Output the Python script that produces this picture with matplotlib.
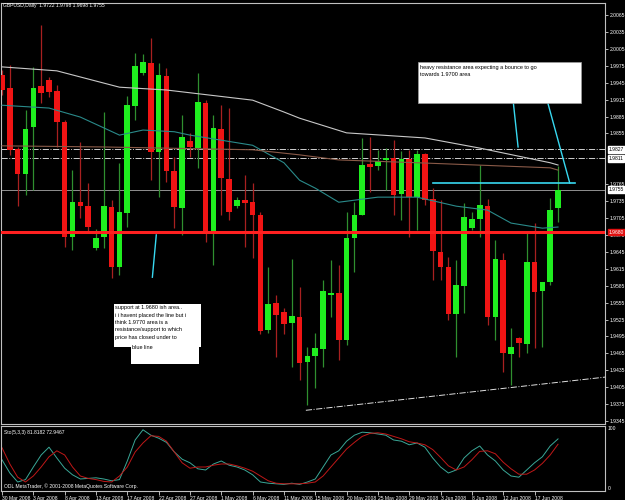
import matplotlib
matplotlib.use("Agg")
import matplotlib.pyplot as plt
from matplotlib.patches import Rectangle
import numpy as np

plt.rcParams['font.family'] = ['Liberation Sans', 'DejaVu Sans']

# GBPUSD daily candles
opens = [1.9959, 1.9936, 1.9827, 1.9783, 1.9866, 1.9939, 1.9950, 1.9930, 1.9875, 1.9671,
         1.9733, 1.9726, 1.9652, 1.9671, 1.9725, 1.9618, 1.9714, 1.9904, 1.9962, 1.9980,
         1.9822, 1.9957, 1.9788, 1.9723, 1.9842, 1.9829, 1.9909, 1.9678, 1.9863, 1.9774,
         1.9726, 1.9737, 1.9733, 1.9710, 1.9506, 1.9554, 1.9538, 1.9519, 1.9529, 1.9450,
         1.9460, 1.9473, 1.9568, 1.9572, 1.9489, 1.9670, 1.9710, 1.9801, 1.9797, 1.9808,
         1.9811, 1.9748, 1.9810, 1.9742, 1.9819, 1.9739, 1.9645, 1.9618, 1.9535, 1.9584,
         1.9687, 1.9703, 1.9726, 1.9529, 1.9631, 1.9464, 1.9492, 1.9482, 1.9627, 1.9576,
         1.9592, 1.9722]
highs = [1.9967, 1.9976, 1.9831, 1.9897, 1.9973, 2.0047, 1.9955, 1.9941, 1.9879, 1.9790,
         1.9840, 1.9767, 1.9686, 1.9893, 1.9737, 1.9803, 1.9921, 1.9998, 1.9996, 2.0024,
         1.9980, 1.9971, 1.9813, 1.9888, 1.9856, 1.9962, 1.9914, 1.9888, 1.9905, 1.9900,
         1.9742, 1.9781, 1.9767, 1.9716, 1.9618, 1.9568, 1.9545, 1.9632, 1.9583, 1.9476,
         1.9501, 1.9595, 1.9631, 1.9622, 1.9716, 1.9733, 1.9847, 1.9849, 1.9826, 1.9829,
         1.9843, 1.9824, 1.9826, 1.9826, 1.9820, 1.9758, 1.9737, 1.9636, 1.9631, 1.9732,
         1.9716, 1.9799, 1.9739, 1.9666, 1.9643, 1.9510, 1.9494, 1.9680, 1.9696, 1.9592,
         1.9740, 1.9798]
lows = [1.9923, 1.9817, 1.9726, 1.9746, 1.9755, 1.9909, 1.9920, 1.9831, 1.9654, 1.9648,
        1.9705, 1.9680, 1.9648, 1.9652, 1.9599, 1.9604, 1.9689, 1.9879, 1.9959, 1.9772,
        1.9742, 1.9769, 1.9687, 1.9675, 1.9813, 1.9794, 1.9662, 1.9622, 1.9710, 1.9701,
        1.9723, 1.9654, 1.9634, 1.9499, 1.9501, 1.9458, 1.9499, 1.9441, 1.9418, 1.9373,
        1.9404, 1.9441, 1.9529, 1.9453, 1.9480, 1.9609, 1.9710, 1.9751, 1.9790, 1.9755,
        1.9710, 1.9701, 1.9671, 1.9684, 1.9728, 1.9595, 1.9595, 1.9524, 1.9458, 1.9537,
        1.9684, 1.9671, 1.9515, 1.9489, 1.9432, 1.9409, 1.9458, 1.9466, 1.9474, 1.9476,
        1.9586, 1.9698]
closes = [1.9932, 1.9826, 1.9783, 1.9863, 1.9936, 1.9927, 1.9928, 1.9875, 1.9671, 1.9733,
          1.9726, 1.9689, 1.9670, 1.9726, 1.9618, 1.9716, 1.9905, 1.9975, 1.9982, 1.9822,
          1.9959, 1.9788, 1.9725, 1.9849, 1.9831, 1.9911, 1.9678, 1.9865, 1.9776, 1.9716,
          1.9737, 1.9732, 1.9710, 1.9505, 1.9553, 1.9533, 1.9517, 1.9531, 1.9448, 1.9460,
          1.9474, 1.9576, 1.9572, 1.9489, 1.9670, 1.9710, 1.9799, 1.9795, 1.9806, 1.9811,
          1.9746, 1.9810, 1.9742, 1.9819, 1.9737, 1.9646, 1.9618, 1.9535, 1.9586, 1.9707,
          1.9703, 1.9728, 1.9529, 1.9632, 1.9466, 1.9476, 1.9483, 1.9627, 1.9574, 1.9592,
          1.9719, 1.9755]

# moving averages (sampled where read)
ma_slow_idx = [0, 7, 15, 21, 32, 36, 38, 44, 54, 61, 70, 71]
ma_slow = [1.9973, 1.9966, 1.9937, 1.9932, 1.9914, 1.9893, 1.9882, 1.9856, 1.9847, 1.9829, 1.9803, 1.9799]
ma_mid_idx = [0, 6, 10, 15, 18, 22, 24, 32, 36, 38, 40, 43, 48, 53, 58, 62, 65, 69, 71]
ma_mid = [1.9905, 1.9900, 1.9884, 1.9852, 1.9861, 1.9858, 1.9852, 1.9834, 1.9803, 1.9772,
          1.9758, 1.9733, 1.9742, 1.9742, 1.9726, 1.9719, 1.9696, 1.9687, 1.9689]
ma_brown_idx = [0, 13, 32, 38, 43, 53, 70, 71]
ma_brown = [1.9833, 1.9831, 1.9826, 1.9817, 1.9808, 1.9803, 1.9794, 1.9790]

# stochastic(5,3,3)
stoch_k = [47, 25, 10, 14, 35, 55, 68, 50, 33, 22, 15, 16, 17, 15, 12, 14, 45, 80, 97, 88,
           83, 76, 60, 48, 42, 32, 30, 40, 45, 38, 35, 30, 22, 10, 8, 7, 6, 8, 6, 10,
           15, 35, 55, 62, 78, 88, 93, 92, 90, 88, 80, 78, 72, 75, 68, 50, 35, 25, 30, 50,
           62, 70, 55, 45, 30, 20, 18, 30, 42, 52, 70, 81.8]
stoch_d = [67, 40, 18, 10, 20, 35, 52, 62, 55, 35, 20, 16, 14, 11, 10, 20, 35, 60, 75, 87,
           86, 78, 60, 42, 33, 35, 35, 38, 40, 40, 37, 33, 28, 20, 12, 8, 7, 7, 7, 8,
           10, 20, 35, 50, 65, 76, 86, 91, 92, 90, 86, 82, 77, 75, 72, 64, 51, 37, 30, 35,
           47, 61, 62, 57, 43, 32, 23, 23, 30, 41, 55, 72.9]

date_idx = [0, 4, 8, 12, 16, 20, 24, 28, 32, 36, 40, 44, 48, 52, 56, 60, 64, 68]
date_labels = ["30 Mar 2008", "3 Apr 2008", "8 Apr 2008", "13 Apr 2008", "17 Apr 2008",
               "22 Apr 2008", "27 Apr 2008", "1 May 2008", "6 May 2008", "11 May 2008",
               "15 May 2008", "20 May 2008", "25 May 2008", "29 May 2008", "3 Jun 2008",
               "8 Jun 2008", "12 Jun 2008", "17 Jun 2008"]

price_ticks = [1.9345, 1.9375, 1.9405, 1.9435, 1.9465, 1.9495, 1.9525, 1.9555, 1.9585,
               1.9615, 1.9645, 1.9675, 1.9705, 1.9735, 1.9765, 1.9855, 1.9885, 1.9915,
               1.9945, 1.9975, 2.0005, 2.0035, 2.0065]

support = 1.9680
dash_levels = [1.9827, 1.9811]
bid = 1.9755

W, H = 625, 500
BG = 'black'
GRID = '#c0c0c0'

def fx(x):
    return x / W

def fy(y):
    return 1 - y / H

fig = plt.figure(figsize=(6.25, 5), dpi=100, facecolor=BG)

# main price panel
ax = fig.add_axes([fx(1), fy(424), fx(604), 421 / H], facecolor=BG)
ax.set_xlim(-0.13, 77.0)
ax.set_ylim(1.93397, 2.00863)

x = np.arange(len(opens))
o = np.array(opens); c = np.array(closes)
up = c >= o
body_lo = np.minimum(o, c)
body_h = np.maximum(np.abs(c - o), 0.00018)

ax.vlines(x[up], np.array(lows)[up], np.array(highs)[up], color='#2f8f2f', lw=0.9, zorder=2)
ax.vlines(x[~up], np.array(lows)[~up], np.array(highs)[~up], color='#a82020', lw=0.9, zorder=2)
ax.bar(x[up], body_h[up], bottom=body_lo[up], width=0.72, color='#1fee1f', lw=0, zorder=3)
ax.bar(x[~up], body_h[~up], bottom=body_lo[~up], width=0.72, color='#f01414', lw=0, zorder=3)

ax.plot(ma_slow_idx, ma_slow, color='#c8c8c8', lw=0.8, zorder=4)
ax.plot(ma_mid_idx, ma_mid, color='#2a8a8a', lw=0.8, zorder=4)
ax.plot(ma_brown_idx, ma_brown, color='#8a5a48', lw=0.8, zorder=4)

for lv in dash_levels:
    ax.axhline(lv, color='#d0d0d0', lw=0.7, ls='-.', zorder=1)
ax.axhline(bid, color='#909090', lw=0.7, zorder=1)
ax.axhline(support, color='#ff2020', lw=2.2, zorder=5)

# trendline and drawings
ax.plot([38.8, 77.1], [1.9364, 1.9423], color='#e0e0e0', lw=0.7, ls='-.', zorder=4)
cyan = '#38d8f0'
ax.plot([55, 73.2], [1.9767, 1.9767], color=cyan, lw=1.2, zorder=6, clip_on=False)
ax.plot([65.3, 65.9], [1.9909, 1.9831], color=cyan, lw=1.0, zorder=6)
ax.plot([69.7, 72.5], [1.9909, 1.9767], color=cyan, lw=1.0, zorder=6)
ax.plot([19.7, 19.2], [1.9675, 1.9600], color=cyan, lw=1.0, zorder=6)

ax.set_xticks([])
ax.yaxis.tick_right()
ax.set_yticks(price_ticks)
ax.set_yticklabels(['%.4f' % v for v in price_ticks])
ax.tick_params(axis='y', colors='white', labelsize=3.6, length=2, width=0.5, pad=1.5)
for s in ax.spines.values():
    s.set_color(GRID)
    s.set_linewidth(0.8)

# boxed level labels on the price scale
def level_box(val, fc, tc):
    ax.text(1.006, (val - 1.93397) / (2.00863 - 1.93397), '%.4f' % val, transform=ax.transAxes,
            fontsize=3.6, color=tc, va='center', ha='left', zorder=10, clip_on=False,
            bbox=dict(facecolor=fc, edgecolor=fc, pad=0.6))

for lv in dash_levels:
    level_box(lv, 'white', 'black')
level_box(bid, 'white', 'black')
level_box(support, '#e01010', 'white')

fig.text(fx(3), fy(6), 'GBPUSD,Daily  1.9722 1.9798 1.9698 1.9755', color='white',
         fontsize=3.6, va='center', ha='left')

# stochastic panel
ax2 = fig.add_axes([fx(1), fy(491), fx(604), 65 / H], facecolor=BG)
ax2.set_xlim(-0.13, 77.0)
ax2.set_ylim(-5, 103.3)
ax2.plot(x, stoch_k, color='#3aa898', lw=0.7)
ax2.plot(x, stoch_d, color='#c01818', lw=0.7)
ax2.set_yticks([100, 0])
ax2.yaxis.tick_right()
ax2.set_yticklabels(['100', '0'])
ax2.tick_params(axis='y', colors='white', labelsize=3.6, length=0, pad=2)
ax2.set_xticks(date_idx)
ax2.set_xticklabels(date_labels, ha='left')
ax2.tick_params(axis='x', colors='white', labelsize=3.6, length=3, width=0.5, pad=0.5)
for s in ax2.spines.values():
    s.set_color(GRID)
    s.set_linewidth(0.8)
ax2.text(0.005, 0.9, 'Sto(5,3,3) 81.8182 72.9467', transform=ax2.transAxes, color='white',
         fontsize=3.6, va='center', ha='left')
ax2.text(0.005, 0.07, 'ODL MetaTrader, \u00a9 2001-2008 MetaQuotes Software Corp.',
         transform=ax2.transAxes, color='white', fontsize=3.6, va='center', ha='left')

# annotation boxes
fig.patches.append(Rectangle((fx(418), fy(103)), fx(163), 41 / H, transform=fig.transFigure,
                             facecolor='white', edgecolor='#a0a0a0', lw=0.5, zorder=8))
fig.text(fx(420), fy(67), 'heavy resistance area expecting a bounce to go', fontsize=4,
         color='black', va='center', ha='left', zorder=9)
fig.text(fx(420), fy(74.5), 'towards 1.9700 area', fontsize=4, color='black',
         va='center', ha='left', zorder=9)

fig.patches.append(Rectangle((fx(114), fy(347)), fx(87), 43 / H, transform=fig.transFigure,
                             facecolor='white', edgecolor='white', lw=0, zorder=8))
fig.patches.append(Rectangle((fx(131), fy(364)), fx(68), 21 / H, transform=fig.transFigure,
                             facecolor='white', edgecolor='white', lw=0, zorder=8))
notes = ['support at 1.9680 ish area..', 'i i havent placed the line but i',
         'think 1.9770 area is a', 'resistance/support to which', 'price has closed under to']
for k, line in enumerate(notes):
    fig.text(fx(115), fy(307.7 + 7.4 * k), line, fontsize=4, color='black',
             va='center', ha='left', zorder=9)
fig.text(fx(131.5), fy(347.7), 'blue line', fontsize=4, color='black',
         va='center', ha='left', zorder=9)

fig.savefig('out.png', dpi=100, facecolor=BG)
